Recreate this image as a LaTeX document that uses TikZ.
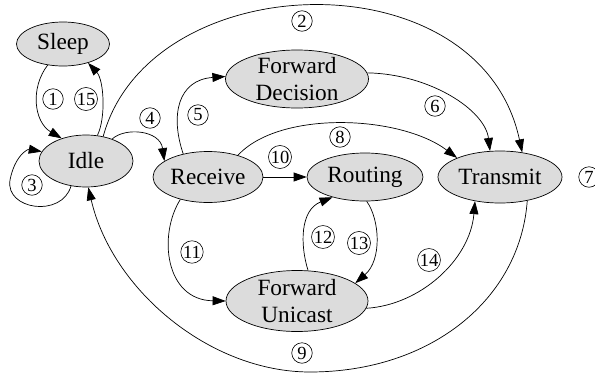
\documentclass[tikz,border=0pt]{standalone}
\usepackage{fontspec}
\setmainfont{Liberation Serif}
\usetikzlibrary{shapes.geometric,arrows.meta}
\definecolor{stfill}{HTML}{DCDCDC}
\tikzset{
  stnode/.style={ellipse,draw=black,fill=stfill,line width=0.7pt,inner xsep=0pt,inner ysep=-4pt,
    font=\fontsize{23.3}{27.5}\selectfont,align=center},
  numlab/.style={circle,draw=black,line width=0.6pt,inner sep=0.3pt,minimum size=20.5pt,
    font=\fontsize{18.5}{18.5}\selectfont},
  edge/.style={line width=0.7pt,-{Triangle[length=13pt,width=9pt]}}
}
\begin{document}
\begin{tikzpicture}[x=1pt,y=-1pt]
\useasboundingbox (0,0) rectangle (595,375);
\clip (0,0) rectangle (595,375);
% nodes
\node[stnode,minimum width=93pt,minimum height=44pt] (sleep) at (63,44) {Sleep};
\node[stnode,minimum width=94pt,minimum height=52pt] (idle) at (86,161) {Idle};
\node[stnode,minimum width=110pt,minimum height=51pt] (receive) at (208,177) {Receive};
\node[stnode,minimum width=116pt,minimum height=48pt] (routing) at (365,177) {Routing};
\node[stnode,minimum width=124pt,minimum height=52pt] (transmit) at (500,177) {Transmit};
\node[stnode,minimum width=143pt,minimum height=58pt] (fd) at (297,79) {Forward\\Decision};
\node[stnode,minimum width=142pt,minimum height=61pt] (fu) at (297,301) {Forward\\Unicast};
% edges
\draw[edge] (sleep.234) .. controls (30,88) and (34,122) .. (idle.137);
\draw[edge] (idle.66) .. controls (106,118) and (104,80) .. (sleep.323);
\draw[edge] (idle.239) .. controls (62,218) and (5,210) .. (10,180) .. controls (15,155) and (28,149) .. (idle.168);
\draw[edge] (idle.55) .. controls (150,-35) and (480,-45) .. (transmit.48);
\draw[edge] (idle.40) .. controls (125,127) and (160,130) .. (receive.160);
\draw[edge] (receive.137) .. controls (170,115) and (178,80) .. (fd.178);
\draw[edge] (fd.5) .. controls (430,74) and (485,110) .. (transmit.111);
\draw[edge] (receive.36) .. controls (280,110) and (400,115) .. (transmit.156);
\draw[edge] (receive.east) -- (routing.west);
\draw[edge] (receive.219) .. controls (158,235) and (165,300) .. (fu.180);
\draw[edge] (fu.70) .. controls (300,245) and (300,210) .. (routing.212);
\draw[edge] (routing.274) .. controls (380,220) and (382,260) .. (fu.17);
\draw[edge] (fu.354) .. controls (420,305) and (470,260) .. (transmit.224);
\draw[edge] (transmit.319) .. controls (520,300) and (430,372) .. (310,372) .. controls (210,372) and (112,290) .. (idle.275);
% labels
\node[numlab] (l1) at (53,99) {1};
\node[numlab] (l15) at (86,99) {15};
\node[numlab] (l3) at (32,185) {3};
\node[numlab] (l4) at (150,118) {4};
\node[numlab] (l2) at (302,21) {2};
\node[numlab] (l5) at (198,115) {5};
\node[numlab] (l6) at (435,106) {6};
\node[numlab] (l8) at (340,137) {8};
\node[numlab] (l10) at (280,157) {10};
\node[numlab] (l11) at (192,252) {11};
\node[numlab] (l12) at (323,237) {12};
\node[numlab] (l13) at (359,243) {13};
\node[numlab] (l14) at (429,260) {14};
\node[numlab] (l9) at (302,353) {9};
\node[numlab] (l7) at (589,177) {7};
\end{tikzpicture}
\end{document}
